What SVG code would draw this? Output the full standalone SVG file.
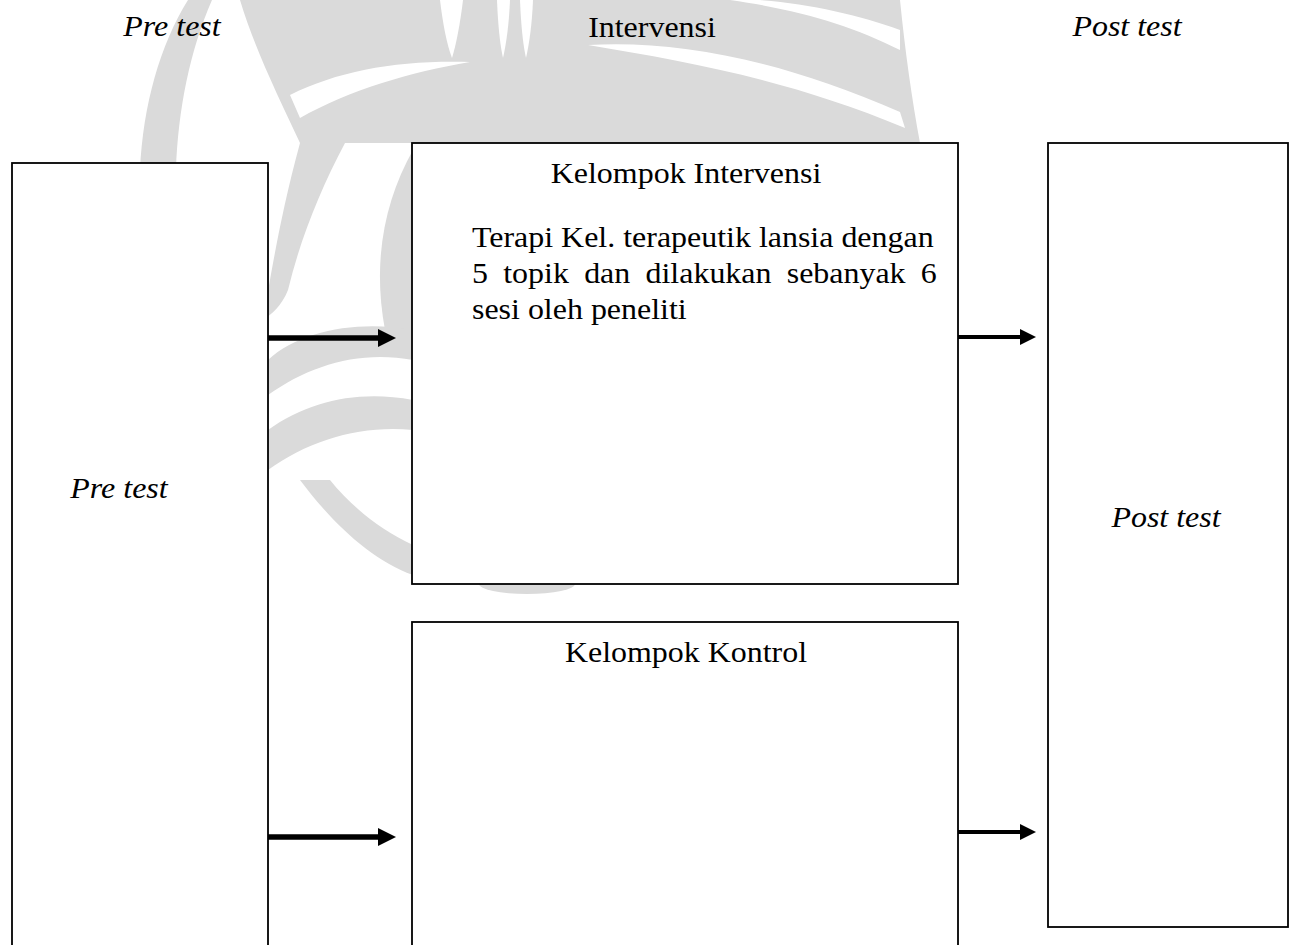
<svg xmlns="http://www.w3.org/2000/svg" width="1291" height="945" viewBox="0 0 1291 945">
  <defs>
    <style>
      .box { fill: #ffffff; stroke: #000000; stroke-width: 1.8; }
      .t { font-family: "Liberation Serif", "Times New Roman", serif; font-size: 30px; fill: #000000; }
      .i { font-style: italic; }
      .c { text-anchor: middle; }
      .wm { fill: #dadada; stroke: none; }
      .wmw { fill: #ffffff; stroke: none; }
      .thick { stroke: #000000; stroke-width: 5.5; fill: none; }
      .thin { stroke: #000000; stroke-width: 3.8; fill: none; }
    </style>
  </defs>
  <rect x="0" y="0" width="1291" height="945" fill="#ffffff"/>

  <g id="watermark">
    <path class="wm" d="M188,0 L212,0 C190,50 178,110 176,170 L140,170 C143,105 160,45 188,0 Z"/>
    <path class="wm" d="M240,0 L900,0 C905,50 912,100 920,143 L300,143 C280,100 255,50 240,0 Z"/>
    <path class="wmw" d="M440,0 L463,0 C460,25 456,45 452,58 C447,45 443,25 440,0 Z"/>
    <path class="wmw" d="M497,0 L510,0 C509,25 506,45 503,58 C500,45 498,25 497,0 Z"/>
    <path class="wmw" d="M520,0 L533,0 C532,25 529,45 526,58 C523,45 521,25 520,0 Z"/>
    <path class="wmw" d="M290,95 C340,70 400,60 470,62 C410,72 350,90 300,118 Z"/>
    <path class="wmw" d="M588,45 C680,40 780,60 900,112 L905,128 C790,80 690,62 588,45 Z"/>
    <path class="wmw" d="M730,0 C800,10 850,25 900,50 L900,30 C860,15 810,4 760,0 Z"/>
    <path class="wm" d="M300,143 L345,143 C320,190 300,240 288,290 C282,305 272,315 262,320 C268,300 275,235 300,143 Z"/>
    <path class="wm" d="M413,150 C385,200 372,260 385,330 L413,345 Z"/>
    <path class="wm" d="M268,360 C300,330 360,320 413,330 L413,360 C360,350 310,365 268,395 Z"/>
    <path class="wm" d="M268,430 C310,400 360,390 413,400 L413,430 C360,425 310,440 268,470 Z"/>
    <path class="wm" d="M300,480 C330,520 370,560 413,575 L413,545 C380,530 350,505 330,480 Z"/>
    <ellipse class="wm" cx="527" cy="584" rx="48" ry="10"/>
  </g>

  <g id="node-pretest">
    <rect class="box" x="12" y="163" width="256" height="800"/>
    <text class="t i c" transform="translate(119,498) scale(1.065,1)">Pre test</text>
  </g>

  <g id="node-intervensi">
    <rect class="box" x="412" y="143" width="546" height="441"/>
    <text class="t c" transform="translate(686,183) scale(1.065,1)">Kelompok Intervensi</text>
    <text class="t" transform="translate(472,247) scale(1.065,1)">Terapi Kel. terapeutik lansia dengan</text>
    <text class="t" transform="translate(472,283) scale(1.065,1)" word-spacing="6.82">5 topik dan dilakukan sebanyak 6</text>
    <text class="t" transform="translate(472,319) scale(1.065,1)">sesi oleh peneliti</text>
  </g>

  <g id="node-kontrol">
    <rect class="box" x="412" y="622" width="546" height="400"/>
    <text class="t c" transform="translate(686,662) scale(1.065,1)">Kelompok Kontrol</text>
  </g>

  <g id="node-posttest">
    <rect class="box" x="1048" y="143" width="240" height="784"/>
    <text class="t i c" transform="translate(1166,527) scale(1.065,1)">Post test</text>
  </g>

  <g id="headers">
    <text class="t i c" transform="translate(172,36) scale(1.065,1)">Pre test</text>
    <text class="t c" transform="translate(652,37) scale(1.065,1)">Intervensi</text>
    <text class="t i c" transform="translate(1127,36) scale(1.065,1)">Post test</text>
  </g>

  <g id="connectors">
    <line class="thick" x1="268" y1="338" x2="380" y2="338"/>
    <polygon points="378,329 396,338 378,347" fill="#000000"/>
    <line class="thick" x1="268" y1="837" x2="380" y2="837"/>
    <polygon points="378,828 396,837 378,846" fill="#000000"/>
    <line class="thin" x1="958" y1="337" x2="1022" y2="337"/>
    <polygon points="1020,329 1036,337 1020,345" fill="#000000"/>
    <line class="thin" x1="958" y1="832" x2="1022" y2="832"/>
    <polygon points="1020,824 1036,832 1020,840" fill="#000000"/>
  </g>
</svg>
